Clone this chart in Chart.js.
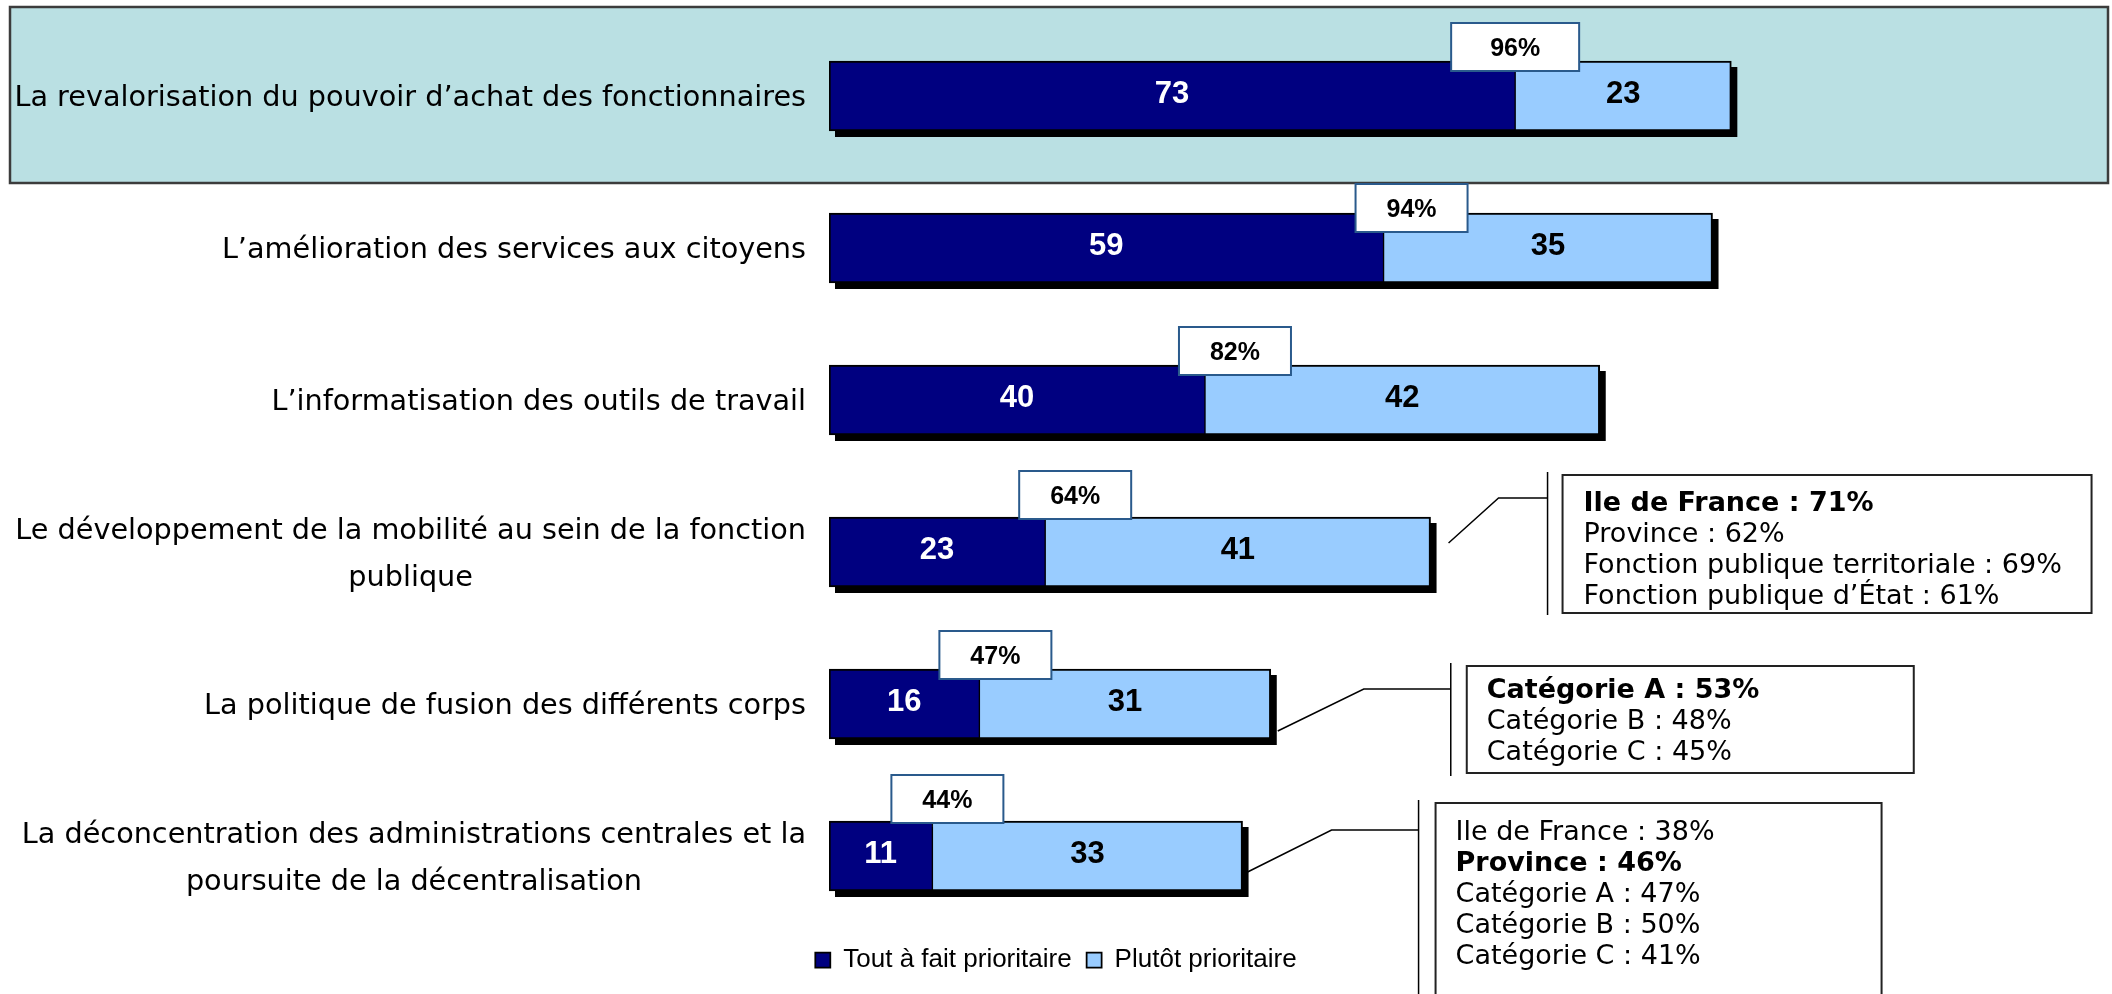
<!DOCTYPE html>
<html>
<head>
<meta charset="utf-8">
<script src="https://cdn.jsdelivr.net/npm/chart.js@4.4.1/dist/chart.umd.min.js"></script>
<style>
  html, body { margin: 0; padding: 0; background: #ffffff; }
  #wrap { width: 2112px; height: 994px; position: relative; overflow: hidden; }
  canvas { display: block; }
</style>
</head>
<body>
<div id="wrap"><canvas id="c" width="2112" height="994"></canvas></div>
<script>
// ---------- DATA ----------
const categories = [
  ["La revalorisation du pouvoir d’achat des fonctionnaires"],
  ["L’amélioration des services aux citoyens"],
  ["L’informatisation des outils de travail"],
  ["Le développement de la mobilité au sein de la fonction", "publique"],
  ["La politique de fusion des différents corps"],
  ["La déconcentration des administrations centrales et la", "poursuite de la décentralisation"]
];
const seriesNames = ["Tout à fait prioritaire", "Plutôt prioritaire"];
const toutAFait = [73, 59, 40, 23, 16, 11];
const plutot = [23, 35, 42, 41, 31, 33];
const totals = [96, 94, 82, 64, 47, 44];
const noteMobilite = ["Ile de France : 71%", "Province : 62%", "Fonction publique territoriale : 69%", "Fonction publique d’État : 61%"];
const noteFusion = ["Catégorie A : 53%", "Catégorie B : 48%", "Catégorie C : 45%"];
const noteDeconc = ["Ile de France : 38%", "Province : 46%", "Catégorie A : 47%", "Catégorie B : 50%", "Catégorie C : 41%"];

// ---------- LAYOUT / STYLE ----------
const NAVY = '#000080', LIGHT = '#99CCFF';
const LABEL_FONT = '28.7px "DejaVu Sans", Verdana, sans-serif';
const NOTE_FONT = '27px "DejaVu Sans", Verdana, sans-serif';
const NOTE_BOLD = 'bold 27px "DejaVu Sans", Verdana, sans-serif';
const VALUE_FONT = 'bold 31px "Liberation Sans", Arial, sans-serif';
const TOTAL_FONT = 'bold 25px "Liberation Sans", Arial, sans-serif';
const LABEL_RIGHT = 806;
const LABEL_LINE = 47;
const BOX_DX = [0, 28, 30, 30, 16, 15];
const BOX_DY = [-38, -29, -38, -46, -38, -46];
const BOX_W = [128, 112, 112, 112, 112, 112];
const BOX_H = 48;
const SHADOW = 6;
const CALLOUTS = [
  { row: 3, lines: noteMobilite, bold: 0, start: [18, -9], elbow: [68, -54], vx: 117, vy: [-80, 63], box: [132, -77, 529, 138], tx: 153, ty: -41 },
  { row: 4, lines: noteFusion,   bold: 0, start: [7, 27],  elbow: [93, -15], vx: 180, vy: [-41, 72], box: [196, -38, 447, 107], tx: 216, ty: -6 },
  { row: 5, lines: noteDeconc,   bold: 1, start: [5, 16],  elbow: [89, -26], vx: 176, vy: [-56, 160], box: [193, -53, 446, 200], tx: 213, ty: -16 }
];
const NOTE_LINE = 31;

const decor = {
  id: 'decor',
  beforeDraw(chart) {
    const ctx = chart.ctx, ys = chart.scales.y;
    const yc = ys.getPixelForValue(0);
    ctx.save();
    ctx.fillStyle = '#BAE0E3';
    ctx.fillRect(10, yc - 89, chart.width - 14, 176);
    ctx.strokeStyle = '#3C3C3C';
    ctx.lineWidth = 2.5;
    ctx.strokeRect(10, yc - 89, chart.width - 14, 176);
    ctx.restore();
  },
  beforeDatasetsDraw(chart) {
    const ctx = chart.ctx;
    const m0 = chart.getDatasetMeta(0), m1 = chart.getDatasetMeta(1);
    ctx.save();
    ctx.fillStyle = '#000';
    m0.data.forEach((a, i) => {
      const pa = a.getProps(['x', 'y', 'base', 'height'], true);
      const pb = m1.data[i].getProps(['x'], true);
      ctx.fillRect(pa.base + SHADOW, pa.y - pa.height / 2 + SHADOW, pb.x - pa.base, pa.height);
    });
    ctx.restore();
  },
  afterDatasetsDraw(chart) {
    const ctx = chart.ctx, xs = chart.scales.x, ys = chart.scales.y;
    ctx.save();
    // category labels
    ctx.font = LABEL_FONT;
    ctx.fillStyle = '#000';
    ctx.textAlign = 'center';
    ctx.textBaseline = 'alphabetic';
    ys.getLabels().forEach((lines, i) => {
      const yc = ys.getPixelForValue(i);
      const maxW = Math.max(...lines.map(l => ctx.measureText(l).width));
      const cx = LABEL_RIGHT - maxW / 2;
      const first = yc + 10 - (lines.length - 1) * LABEL_LINE / 2;
      lines.forEach((l, k) => ctx.fillText(l, cx, first + k * LABEL_LINE));
    });
    // values inside the bars
    ctx.font = VALUE_FONT;
    [0, 1].forEach(d => {
      const meta = chart.getDatasetMeta(d);
      const vals = chart.data.datasets[d].data;
      ctx.fillStyle = d === 0 ? '#FFFFFF' : '#000000';
      meta.data.forEach((el, i) => {
        const p = el.getProps(['x', 'y', 'base'], true);
        ctx.fillText(String(vals[i]), (p.x + p.base) / 2, p.y + 6.5);
      });
    });
    // total boxes
    const m0 = chart.getDatasetMeta(0);
    m0.data.forEach((el, i) => {
      const p = el.getProps(['x', 'y', 'height'], true);
      const cx = p.x + BOX_DX[i];
      const top = p.y - p.height / 2 + BOX_DY[i];
      ctx.fillStyle = '#FFFFFF';
      ctx.fillRect(cx - BOX_W[i] / 2, top, BOX_W[i], BOX_H);
      ctx.strokeStyle = '#2A5A8C';
      ctx.lineWidth = 2;
      ctx.strokeRect(cx - BOX_W[i] / 2, top, BOX_W[i], BOX_H);
      ctx.font = TOTAL_FONT;
      ctx.fillStyle = '#000';
      ctx.fillText(totals[i] + '%', cx, top + BOX_H / 2 + 9);
    });
    // callouts
    CALLOUTS.forEach(c => {
      const xe = xs.getPixelForValue(totals[c.row]);
      const yc = ys.getPixelForValue(c.row);
      ctx.strokeStyle = '#000';
      ctx.lineWidth = 1.5;
      ctx.beginPath();
      ctx.moveTo(xe + c.start[0], yc + c.start[1]);
      ctx.lineTo(xe + c.elbow[0], yc + c.elbow[1]);
      ctx.lineTo(xe + c.vx, yc + c.elbow[1]);
      ctx.stroke();
      ctx.beginPath();
      ctx.moveTo(xe + c.vx, yc + c.vy[0]);
      ctx.lineTo(xe + c.vx, yc + c.vy[1]);
      ctx.stroke();
      ctx.fillStyle = '#FFFFFF';
      ctx.fillRect(xe + c.box[0], yc + c.box[1], c.box[2], c.box[3]);
      ctx.strokeStyle = '#222';
      ctx.lineWidth = 2;
      ctx.strokeRect(xe + c.box[0], yc + c.box[1], c.box[2], c.box[3]);
      ctx.fillStyle = '#000';
      ctx.textAlign = 'left';
      c.lines.forEach((l, k) => {
        ctx.font = k === c.bold ? NOTE_BOLD : NOTE_FONT;
        ctx.fillText(l, xe + c.tx, yc + c.ty + k * NOTE_LINE);
      });
      ctx.textAlign = 'center';
    });
    ctx.restore();
  }
};

new Chart(document.getElementById('c').getContext('2d'), {
  type: 'bar',
  data: {
    labels: categories,
    datasets: [
      { label: seriesNames[0], data: toutAFait, backgroundColor: NAVY, borderColor: '#000',
        borderWidth: { top: 2, bottom: 2, left: 2, right: 1 }, borderSkipped: false, barThickness: 70 },
      { label: seriesNames[1], data: plutot, backgroundColor: LIGHT, borderColor: '#000',
        borderWidth: { top: 2, bottom: 2, left: 1, right: 2 }, borderSkipped: false, barThickness: 70 }
    ]
  },
  options: {
    indexAxis: 'y',
    responsive: false,
    animation: false,
    devicePixelRatio: 1,
    layout: { padding: { top: 20, bottom: 11, left: 0, right: 0 } },
    scales: {
      x: { stacked: true, min: 0, max: 136.5, display: false },
      y: { stacked: true, grid: { display: false }, border: { display: false },
           ticks: { display: false }, afterFit(s) { s.width = 829; } }
    },
    plugins: {
      legend: {
        position: 'bottom',
        labels: { font: { family: '"Liberation Sans", Arial, sans-serif', size: 26 }, color: '#000',
                  boxWidth: 15, boxHeight: 15, padding: 15 }
      },
      tooltip: { enabled: false }
    }
  },
  plugins: [decor]
});
</script>
</body>
</html>
